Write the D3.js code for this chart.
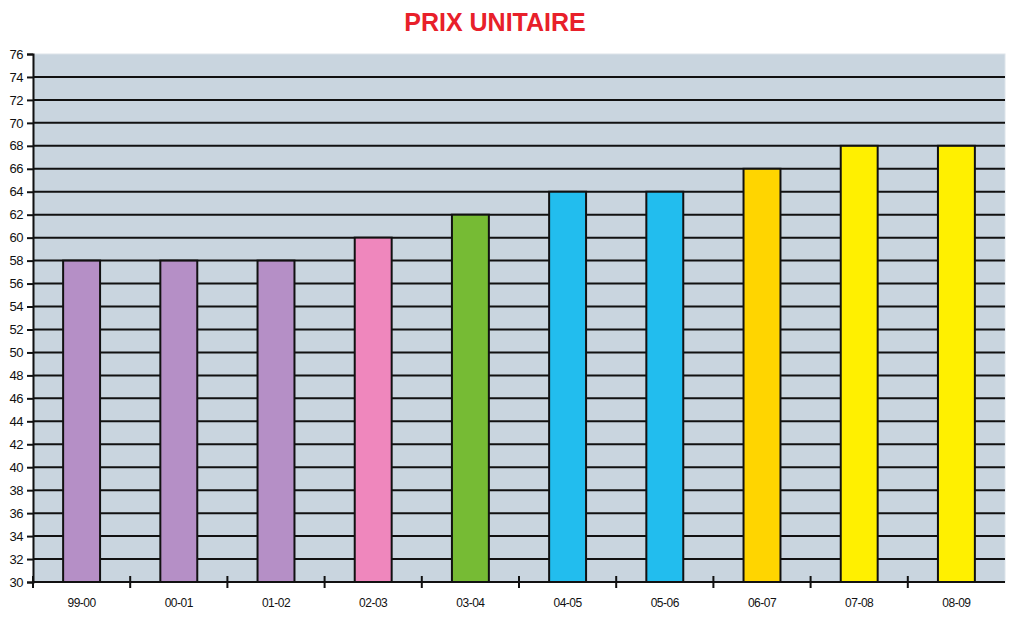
<!DOCTYPE html>
<html>
<head>
<meta charset="utf-8">
<script src="https://cdn.jsdelivr.net/npm/d3@7"></script>
<style>
  body { margin: 0; background: #fff; }
  svg { display: block; }
</style>
</head>
<body>
<div id="graph"></div>
<script>
// chart data
var seasons = ["99-00", "00-01", "01-02", "02-03", "03-04", "04-05", "05-06", "06-07", "07-08", "08-09"];
var prices = [58, 58, 58, 60, 62, 64, 64, 66, 68, 68];
var barColors = ["#b58fc6", "#b58fc6", "#b58fc6", "#ef87bd", "#76bb34", "#22bdee", "#22bdee", "#ffd500", "#fff000", "#fff000"];
var yTicks = d3.range(30, 77, 2);

var width = 1010, height = 618;
var margin = {top: 54, right: 5, bottom: 36, left: 33};

var svg = d3.select("#graph").append("svg")
  .attr("width", width)
  .attr("height", height);

var x = d3.scaleBand()
  .domain(seasons)
  .range([margin.left, width - margin.right])
  .paddingInner(0.62)
  .paddingOuter(0.31);

var y = d3.scaleLinear()
  .domain([30, 76])
  .range([height - margin.bottom, margin.top]);

// title
svg.append("text")
  .attr("x", 495)
  .attr("y", 31)
  .attr("text-anchor", "middle")
  .attr("font-family", "Liberation Sans, Arial, sans-serif")
  .attr("font-weight", "bold")
  .attr("font-size", 25)
  .attr("fill", "#e8202a")
  .text("PRIX UNITAIRE");

// plot background
svg.append("rect")
  .attr("x", margin.left)
  .attr("y", margin.top)
  .attr("width", width - margin.right - margin.left)
  .attr("height", height - margin.bottom - margin.top)
  .attr("fill", "#c9d5df")
  .attr("stroke", "#dde4ea")
  .attr("stroke-width", 1);

// grid lines
svg.append("g")
  .selectAll("line")
  .data(yTicks.filter(function(d) { return d > 30 && d < 76; }))
  .enter().append("line")
  .attr("x1", margin.left)
  .attr("x2", width - margin.right)
  .attr("y1", function(d) { return y(d); })
  .attr("y2", function(d) { return y(d); })
  .attr("stroke", "#111")
  .attr("stroke-width", 2);

// bars
svg.append("g")
  .selectAll("rect")
  .data(prices)
  .enter().append("rect")
  .attr("x", function(d, i) { return x(seasons[i]); })
  .attr("y", function(d) { return y(d); })
  .attr("width", x.bandwidth())
  .attr("height", function(d) { return y(30) - y(d); })
  .attr("fill", function(d, i) { return barColors[i]; })
  .attr("stroke", "#111")
  .attr("stroke-width", 2);

// y axis
var yAxis = svg.append("g")
  .attr("transform", "translate(" + margin.left + ",0)")
  .call(d3.axisLeft(y).tickValues(yTicks).tickSize(6).tickPadding(4));
yAxis.select(".domain").attr("stroke", "#111").attr("stroke-width", 2);
yAxis.selectAll(".tick line").attr("stroke", "#111").attr("stroke-width", 2);
yAxis.selectAll("text")
  .attr("font-family", "Liberation Sans, Arial, sans-serif")
  .attr("font-size", 13)
  .attr("fill", "#111")
  .attr("letter-spacing", -0.5);

// x axis: ticks between categories
var step = x.step();
var xAxis = svg.append("g")
  .attr("transform", "translate(0," + (height - margin.bottom) + ")");
xAxis.append("line")
  .attr("x1", margin.left)
  .attr("x2", width - margin.right)
  .attr("stroke", "#111")
  .attr("stroke-width", 2);
xAxis.selectAll(".sep")
  .data(seasons)
  .enter().append("line")
  .attr("class", "sep")
  .attr("x1", function(d) { return x(d) - x.paddingOuter() * step; })
  .attr("x2", function(d) { return x(d) - x.paddingOuter() * step; })
  .attr("y1", -6)
  .attr("y2", 6)
  .attr("stroke", "#111")
  .attr("stroke-width", 2);
xAxis.selectAll(".lbl")
  .data(seasons)
  .enter().append("text")
  .attr("class", "lbl")
  .attr("x", function(d) { return x(d) + x.bandwidth() / 2; })
  .attr("y", 25)
  .attr("text-anchor", "middle")
  .attr("font-family", "Liberation Sans, Arial, sans-serif")
  .attr("font-size", 12)
  .attr("letter-spacing", -0.5)
  .attr("fill", "#111")
  .text(function(d) { return d; });
</script>
</body>
</html>
